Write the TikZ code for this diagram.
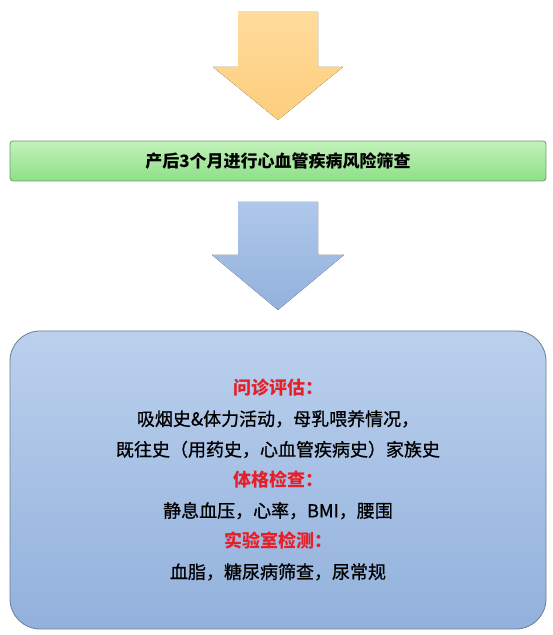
\documentclass[tikz,border=0pt]{standalone}
\usepackage{fontspec}
\setmainfont{Noto Sans CJK SC}
\newfontfamily\bodyfont[FakeBold=0.8]{Noto Sans CJK SC}
\usepackage{tikz}
\usetikzlibrary{positioning}

\definecolor{orangetop}{HTML}{FFDC9C}
\definecolor{orangebot}{HTML}{FDCD7C}
\definecolor{greentop}{HTML}{C2F2BA}
\definecolor{greenbot}{HTML}{8EDF88}
\definecolor{greenline}{HTML}{6E9A6C}
\definecolor{bluetop}{HTML}{AFC8EA}
\definecolor{bluebot}{HTML}{92B1DC}
\definecolor{panelline}{HTML}{6E7D93}
\definecolor{headred}{HTML}{E5202A}

\begin{document}
\begin{tikzpicture}[
    x=1pt, y=1pt,
    bar/.style={rectangle, draw=greenline, line width=0.8pt, rounded corners=3pt,
        top color=greentop, bottom color=greenbot,
        minimum width=536pt, minimum height=40pt, inner sep=0pt,
        font=\fontsize{17}{20}\selectfont\bfseries},
    panel/.style={rectangle, draw=panelline, line width=0.8pt, rounded corners=30pt,
        top color=bluetop!85!white, bottom color=bluebot,
        minimum width=536pt, minimum height=298pt, inner sep=0pt, align=center,
        font=\fontsize{18}{30.6}\selectfont\bodyfont}
]
\useasboundingbox (0,0) rectangle (552,635);

% orange arrow
\fill[top color=orangetop, bottom color=orangebot]
    (238,623) -- (318,623) -- (318,568) -- (343,568) -- (278,515)
    -- (213,568) -- (238,568) -- cycle;

\node[bar] (screen) at (278,474) {产后3个月进行心血管疾病风险筛查};

% blue arrow
\fill[top color=bluetop, bottom color=bluebot]
    (238,433) -- (318,433) -- (318,380) -- (344,380) -- (278,325)
    -- (212,380) -- (238,380) -- cycle;

\node[panel] (items) at (278,155) {%
    {\color{headred}\normalfont\bfseries 问诊评估：}\\
    吸烟史\&体力活动，母乳喂养情况，\\
    既往史（用药史，心血管疾病史）家族史\\
    {\color{headred}\normalfont\bfseries 体格检查：}\\
    静息血压，心率，BMI，腰围\\
    {\color{headred}\normalfont\bfseries 实验室检测：}\\
    血脂，糖尿病筛查，尿常规};
\end{tikzpicture}
\end{document}
